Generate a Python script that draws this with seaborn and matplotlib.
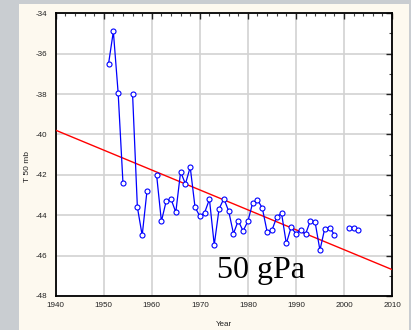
import numpy as np
import pandas as pd
import matplotlib
matplotlib.use("Agg")
import matplotlib.pyplot as plt
import seaborn as sns
from matplotlib.patches import Rectangle

# ---- data ----
years = [1951, 1952, 1953, 1954,
         1956, 1957, 1958, 1959,
         1961, 1962, 1963, 1964, 1965, 1966, 1967, 1968, 1969, 1970,
         1971, 1972, 1973, 1974, 1975, 1976, 1977, 1978, 1979, 1980,
         1981, 1982, 1983, 1984, 1985, 1986, 1987, 1988, 1989, 1990,
         1991, 1992, 1993, 1994, 1995, 1996, 1997, 1998,
         2001, 2002, 2003]
temps = [-36.5, -34.9, -37.95, -42.4,
         -38.0, -43.6, -45.0, -42.8,
         -42.0, -44.3, -43.3, -43.2, -43.85, -41.85, -42.45, -41.62, -43.6, -44.05,
         -43.87, -43.21, -45.47, -43.69, -43.18, -43.79, -44.91, -44.27, -44.78, -44.30,
         -43.39, -43.24, -43.64, -44.81, -44.75, -44.10, -43.89, -45.40, -44.60, -44.91,
         -44.73, -44.94, -44.28, -44.35, -45.73, -44.66, -44.61, -44.96,
         -44.63, -44.63, -44.71]
segments = [0] * 4 + [1] * 4 + [2] * 38 + [3] * 3

trend_years = [1940, 2010]
trend_vals = [-39.79, -46.69]

x_ticks = [1940, 1950, 1960, 1970, 1980, 1990, 2000, 2010]
y_ticks = [-48, -46, -44, -42, -40, -38, -36, -34]

df = pd.DataFrame({"year": years, "temp": temps, "seg": segments})
trend = pd.DataFrame({"year": trend_years, "temp": trend_vals})

sns.set_style("white")
plt.rcParams["font.family"] = ["Liberation Sans", "DejaVu Sans"]

W, H = 411, 330
fig = plt.figure(figsize=(W / 100, H / 100), dpi=100, facecolor="#c9cdd1")
bg = Rectangle((19 / W, 0), (409 - 19) / W, (H - 4) / H,
               transform=fig.transFigure, facecolor="#fdf9ef",
               edgecolor="none", zorder=-10)
fig.add_artist(bg)

ax = fig.add_axes([55.7 / W, 1 - 296 / H, (392 - 55.7) / W, (296 - 13.3) / H])
ax.set_zorder(5)
ax.set_facecolor("white")

sns.lineplot(data=trend, x="year", y="temp", color="#ff0000", linewidth=1.0,
             ax=ax, zorder=3)
sns.lineplot(data=df, x="year", y="temp", units="seg", estimator=None,
             color="#0000ff", linewidth=0.9, ax=ax, zorder=4)
sns.scatterplot(data=df, x="year", y="temp", s=13, facecolor="white",
                edgecolor="#0000ff", linewidth=0.8, ax=ax, zorder=5)

ax.set_xlim(1940, 2010)
ax.set_ylim(-48, -34)
ax.set_xticks(x_ticks)
ax.set_yticks(y_ticks)
ax.set_xticklabels([str(t) for t in x_ticks])
ax.set_yticklabels([str(t) for t in y_ticks])
ax.set_xticks(np.arange(1940, 2011, 2), minor=True)
ax.set_yticks(np.arange(-48, -33, 1), minor=True)

ax.grid(True, which="major", color="#d2d2d2", linewidth=1.2)
ax.set_axisbelow(True)
ax.tick_params(which="major", direction="in", top=True, right=True, length=4,
               width=1, color="#222222", labelsize=5.8, labelcolor="#222222")
ax.tick_params(axis="y", which="major", pad=6)
ax.tick_params(axis="x", which="major", pad=4.5)
ax.tick_params(which="minor", direction="in", top=True, right=True, length=2,
               width=0.8, color="#444444")
for s in ax.spines.values():
    s.set_color("black")
    s.set_linewidth(1.3)

ax.set_xlabel("")
ax.set_ylabel("")
fig.text(224 / W, 1 - 324.5 / H, "Year", ha="center", va="center",
         fontsize=5.8, color="#222222")
fig.text(27 / W, 1 - 167 / H, "T 50 mb", ha="center", va="center",
         rotation=90, fontsize=6, color="#222222")

ax.text(1973.5, -47.09, "50 gPa", ha="left", va="baseline",
        fontsize=23, family=["Liberation Serif", "DejaVu Serif"], color="black",
        zorder=6)

fig.savefig("out.png", dpi=100, facecolor=fig.get_facecolor())
